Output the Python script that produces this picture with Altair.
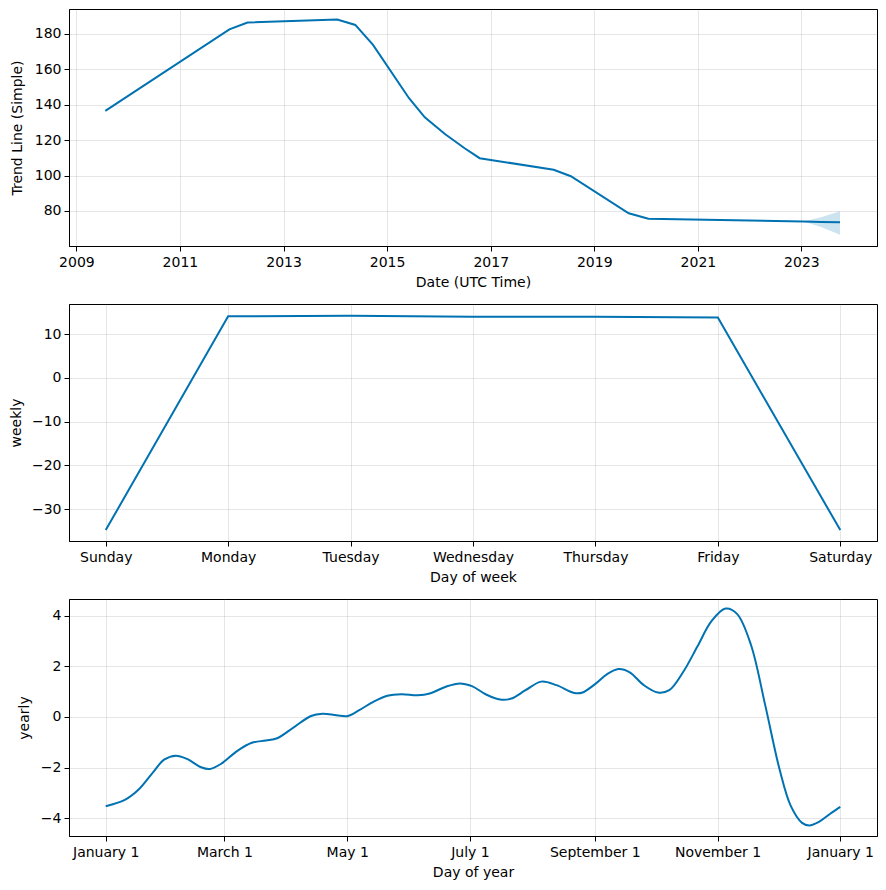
import altair as alt
import pandas as pd

# ---- Trend component ----
trend_dates = ["2009-07-24", "2011-12-16", "2012-04-22", "2014-01-15", "2014-05-22",
               "2014-09-24", "2015-06-05", "2015-09-24", "2016-02-13", "2016-07-01",
               "2016-10-15", "2018-03-21", "2018-07-20", "2019-09-01", "2020-01-18",
               "2023-01-15", "2023-05-20", "2023-09-30"]
trend_values = [136.5, 182.6, 186.5, 188.1, 185.1, 173.8, 143.7, 132.9, 123.5, 115.4,
                109.8, 103.3, 99.6, 78.7, 75.6, 74.0, 73.8, 73.6]
trend_lower = [136.5, 182.6, 186.5, 188.1, 185.1, 173.8, 143.7, 132.9, 123.5, 115.4,
               109.8, 103.3, 99.6, 78.7, 75.6, 74.0, 71.0, 66.5]
trend_upper = [136.5, 182.6, 186.5, 188.1, 185.1, 173.8, 143.7, 132.9, 123.5, 115.4,
               109.8, 103.3, 99.6, 78.7, 75.6, 74.0, 76.5, 79.8]

# ---- Weekly component ----
weekdays = ["Sunday", "Monday", "Tuesday", "Wednesday", "Thursday", "Friday", "Saturday"]
weekly_values = [-34.8, 14.1, 14.2, 14.0, 14.0, 13.8, -34.8]

# ---- Yearly component ----
year_days = [0, 9.5, 16.5, 23.5, 29, 34.8, 40.4, 47.4, 51.6, 57.2, 65.6, 72.6, 79.6,
             85.2, 93.6, 102, 107.7, 114.7, 120.3, 126, 133, 140, 147, 155, 161, 169,
             176, 182, 189, 196, 201.6, 208.6, 216.4, 224, 232.4, 236.6, 243.6, 249,
             254.8, 260.4, 267.4, 274.4, 280, 287, 294, 301, 308, 313.7, 320.6, 327.7,
             334.8, 340.4, 346, 349.6, 354.4, 360, 365]
yearly_values = [-3.53, -3.28, -2.86, -2.19, -1.69, -1.53, -1.66, -1.99, -2.06, -1.86,
                 -1.33, -1.02, -0.93, -0.84, -0.40, 0.04, 0.13, 0.07, 0.04, 0.27, 0.60,
                 0.84, 0.90, 0.86, 0.93, 1.20, 1.33, 1.22, 0.89, 0.69, 0.73, 1.06, 1.40,
                 1.26, 0.96, 0.96, 1.33, 1.69, 1.90, 1.77, 1.26, 0.97, 1.06, 1.79, 2.79,
                 3.79, 4.29, 4.08, 2.86, 0.47, -2.06, -3.52, -4.19, -4.29, -4.15, -3.83,
                 -3.56]
month_ticks = [0, 59, 120, 181, 243, 304, 365]
month_labels = ["January 1", "March 1", "May 1", "July 1", "September 1", "November 1", "January 1"]

BLUE = "#0072B2"
W, H = 808, 237
FS = 14


def xaxis(title, **kw):
    return alt.Axis(title=title, grid=True, gridColor="#808080", gridOpacity=0.2,
                    tickColor="black", domainColor="black", labelFontSize=FS,
                    titleFontSize=FS, titleFontWeight="normal", labelColor="black",
                    titleColor="black", tickSize=5, labelPadding=4, titlePadding=6,
                    labelFont="DejaVu Sans", titleFont="DejaVu Sans", labelFlush=False,
                    labelOverlap=False, **kw)


def yaxis(title, tx, **kw):
    return alt.Axis(title=title, grid=True, gridColor="#808080", gridOpacity=0.2,
                    tickColor="black", domainColor="black", labelFontSize=FS,
                    titleFontSize=FS, titleFontWeight="normal", labelColor="black",
                    titleColor="black", tickSize=5, labelPadding=3,
                    labelFont="DejaVu Sans", titleFont="DejaVu Sans", titleX=tx,
                    titleBaseline="middle", labelFlush=False, labelOverlap=False, **kw)


# Trend panel
trend_df = pd.DataFrame({"date": trend_dates, "value": trend_values,
                         "lower": trend_lower, "upper": trend_upper})
tx_scale = alt.Scale(type="utc", domain=[alt.DateTime(year=2008, month=11, date=10, utc=True),
                                         alt.DateTime(year=2024, month=6, date=17, utc=True)])
t_x = alt.X("date:T", scale=tx_scale,
            axis=xaxis("Date (UTC Time)", format="%Y", formatType="utc",
                       values=[alt.DateTime(year=y, month=1, date=1, utc=True)
                               for y in range(2009, 2024, 2)]))
t_y_scale = alt.Scale(domain=[60.2, 194.1], nice=False, zero=False)
band = alt.Chart(trend_df).mark_area(color=BLUE, opacity=0.2).encode(
    x=t_x,
    y=alt.Y("lower:Q", scale=t_y_scale,
            axis=yaxis("Trend Line (Simple)", -52, values=[80, 100, 120, 140, 160, 180])),
    y2="upper:Q",
)
tline = alt.Chart(trend_df).mark_line(color=BLUE, strokeWidth=2).encode(
    x=t_x, y=alt.Y("value:Q", scale=t_y_scale))
trend_chart = alt.layer(band, tline).properties(width=W, height=H)

# Weekly panel
weekly_df = pd.DataFrame({"day": list(range(7)), "name": weekdays, "value": weekly_values})
week_map = "[" + ",".join(f"'{d}'" for d in weekdays) + "]"
weekly_chart = alt.Chart(weekly_df).mark_line(color=BLUE, strokeWidth=2).encode(
    x=alt.X("day:Q", scale=alt.Scale(domain=[-0.3, 6.3], nice=False, zero=False),
            axis=xaxis("Day of week", values=list(range(7)),
                       labelExpr=week_map + "[datum.value]")),
    y=alt.Y("value:Q", scale=alt.Scale(domain=[-37.3, 16.9], nice=False, zero=False),
            axis=yaxis("weekly", -53, values=[-30, -20, -10, 0, 10])),
).properties(width=W, height=H)

# Yearly panel
yearly_df = pd.DataFrame({"day": year_days, "value": yearly_values})
label_map = "{" + ",".join(f"'{d}':'{l}'" for d, l in zip(month_ticks, month_labels)) + "}"
yearly_chart = alt.Chart(yearly_df).mark_line(color=BLUE, strokeWidth=2,
                                              interpolate="catmull-rom").encode(
    x=alt.X("day:Q", scale=alt.Scale(domain=[-18.25, 383.25], nice=False, zero=False),
            axis=xaxis("Day of year", values=month_ticks,
                       labelExpr=label_map + "[datum.value + '']")),
    y=alt.Y("value:Q", scale=alt.Scale(domain=[-4.71, 4.67], nice=False, zero=False),
            axis=yaxis("yearly", -45, values=[-4, -2, 0, 2, 4])),
).properties(width=W, height=H)

chart = alt.vconcat(trend_chart, weekly_chart, yearly_chart, spacing=58, bounds="flush").properties(
    padding={"left": 0, "top": 0, "right": 0, "bottom": 5},
    background="white",
).configure_view(stroke="black", strokeWidth=1)

chart.save("out.html", embed_options={"renderer": "svg", "actions": False})
